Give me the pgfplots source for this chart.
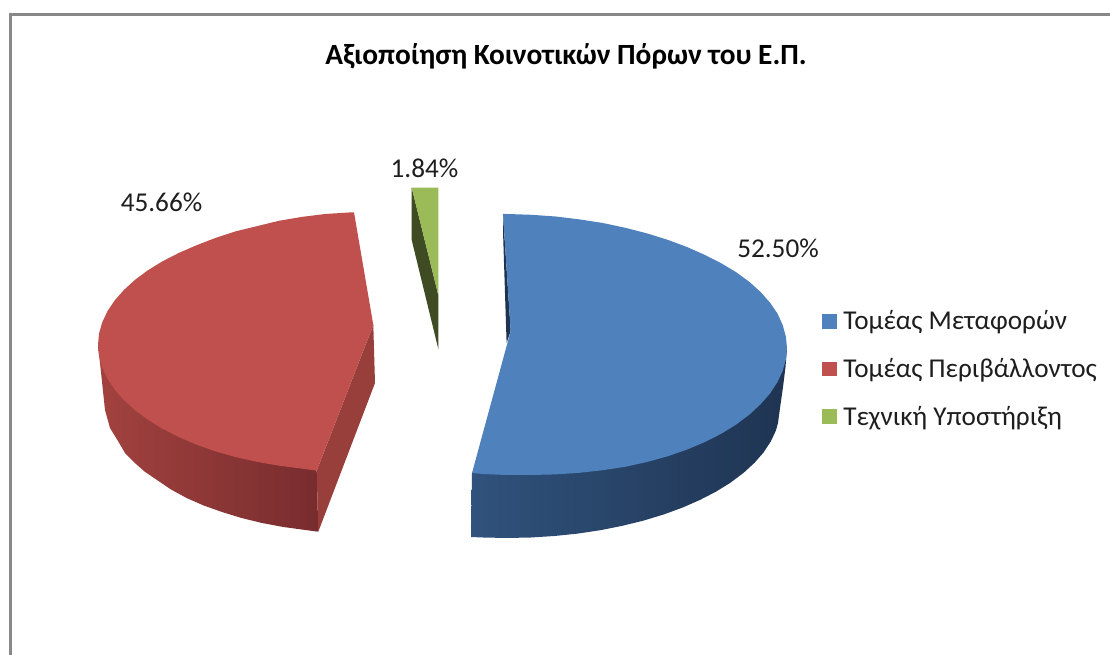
\documentclass[border=0pt]{standalone}
\usepackage{pgfplots}
\pgfplotsset{compat=1.18}
\usepackage{fontspec}
\setmainfont{Carlito}
\definecolor{bluetop}{RGB}{79,129,189}
\definecolor{redtop}{RGB}{192,80,77}
\definecolor{greentop}{RGB}{155,187,89}
\definecolor{bluel}{RGB}{48,82,124}
\definecolor{bluem}{RGB}{31,52,82}
\definecolor{redl}{RGB}{162,66,63}
\definecolor{redm}{RGB}{142,56,54}
\definecolor{redr}{RGB}{120,44,46}
\definecolor{redin}{RGB}{152,62,59}
\definecolor{greendark}{RGB}{63,75,35}
\definecolor{frame}{RGB}{136,136,136}
\definecolor{txt}{RGB}{30,30,30}
\begin{document}
\begin{tikzpicture}
\begin{axis}[
  scale only axis, width=832.5pt, height=491.25pt,
  xmin=0, xmax=1110, ymin=0, ymax=655, y dir=reverse,
  hide axis, clip=true,
  legend cell align=left,
  legend style={at={(axis cs:822,308)}, anchor=north west, draw=none, fill=none,
    inner sep=0pt, outer sep=0pt, row sep=15.9pt,
    font=\fontsize{20.4pt}{24pt}\selectfont\color{txt},
    /tikz/every odd column/.append style={column sep=3pt}},
  legend image code/.code={\fill[#1] (0pt,-5.5pt) rectangle (11pt,5.5pt);},
]
% page extent
\addplot[fill=white, draw=none, mark=none, forget plot] coordinates {(0,0) (1110,0) (1110,655) (0,655)} --cycle;
% frame
\addplot[frame, line width=2.2pt, mark=none, forget plot] coordinates {(10.5,655) (10.5,14.5) (1110,14.5)};
% blue side
\addplot[draw=none, left color=bluel, middle color=bluem, right color=bluem, mark=none, forget plot] coordinates {
(472,473) (471,537) (483.2,537.5) (507,538) (530.8,537.5) (554.4,536) (577.7,533.6) (600.4,530.2) (622.4,525.8) (643.5,520.6) (663.6,514.5) (682.5,507.6) (700,499.9) (716.1,491.6) (730.6,482.6) (743.4,473) (754.4,462.9) (763.5,452.5) (770.7,441.6) (775.9,430.6) (778,423) (780,408) (783,387) (785.5,367) (787,348)} --cycle;
% blue inner sliver
\addplot[fill=bluem, draw=none, mark=none, forget plot] coordinates {(503,214) (503,231) (506.6,343) (510.7,331)} --cycle;
% blue top
\addplot[fill=bluetop, draw=none, mark=none] coordinates {
(503,214) (507,214) (531.4,214.8) (555.6,216.5) (579.5,219.4) (602.8,223) (625.3,227.8) (647,233.4) (667.6,239.8) (687,247) (705,255) (721.5,263.4) (736.4,272.4) (749.5,282) (760.8,292.2) (770.1,302.8) (777.5,313.6) (782.7,325) (785.9,336.7) (787,348) (785.9,359.3) (782.7,370.8) (777.5,382) (770.1,393.4) (760.8,404) (749.5,414.5) (736.4,424.4) (721.5,433.6) (705,442) (687,449.6) (667.6,456.3) (647,462) (625.3,466.8) (602.8,470.2) (579.5,472.8) (555.6,474.4) (531.4,475) (507,475) (482.6,474) (472,473) (510.7,331)} --cycle;
\addlegendentry{Τομέας Μεταφορών}
% red side
\addplot[draw=none, left color=redl, middle color=redm, right color=redr, mark=none, forget plot] coordinates {
(316.7,470.7) (98,345) (100,363) (105,410) (110,428) (118,441) (125,453) (133.8,462) (144.5,471.5) (157,480) (171,489.5) (186.6,498) (203.7,505.5) (222,512) (241.5,518) (262,523) (283.4,527) (305.4,530) (318.3,531.7)} --cycle;
% red inner side
\addplot[fill=redin, draw=none, mark=none, forget plot] coordinates {(373.3,325) (375,383) (318.3,531.7) (316.7,470.7)} --cycle;
% red top
\addplot[fill=redtop, draw=none, mark=none] coordinates {
(354,212.3) (349,212.5) (325.2,214) (301.8,216.9) (278.9,220.8) (256.8,226.2) (235.5,231.4) (215.3,238) (196.2,245.4) (178.5,253.1) (162.3,261.4) (147.7,270.4) (134.8,280) (123.8,290.1) (114.6,300.5) (107.4,311.4) (102.2,322.4) (99,333.7) (98,345) (99,356.3) (102.2,367.6) (107.4,378.6) (114.6,389.5) (123.8,399.9) (134.8,410) (147.7,419.6) (162.3,428.6) (178.5,436.9) (196.2,444.6) (215.3,451.3) (235.5,457.1) (256.8,461.8) (278.9,465.7) (301.8,468.6) (316.7,470.7) (373.3,325)} --cycle;
\addlegendentry{Τομέας Περιβάλλοντος}
% green dark side
\addplot[fill=greendark, draw=none, mark=none, forget plot] coordinates {(411.7,187.7) (411.7,240) (438.3,349) (438.3,295)} --cycle;
% green top
\addplot[fill=greentop, draw=none, mark=none] coordinates {(411.7,187.7) (438.3,187.7) (438.3,295)} --cycle;
\addlegendentry{Τεχνική Υποστήριξη}
% text
\node[font=\bfseries\fontsize{22pt}{26pt}\selectfont, text=black] at (axis cs:566,56) {Αξιοποίηση Κοινοτικών Πόρων του Ε.Π.};
\node[font=\fontsize{20.4pt}{24pt}\selectfont, text=txt] at (axis cs:778,248) {52.50\%};
\node[font=\fontsize{20.4pt}{24pt}\selectfont, text=txt] at (axis cs:161.5,202) {45.66\%};
\node[font=\fontsize{20.4pt}{24pt}\selectfont, text=txt] at (axis cs:424.5,168) {1.84\%};
\end{axis}
\end{tikzpicture}
\end{document}
